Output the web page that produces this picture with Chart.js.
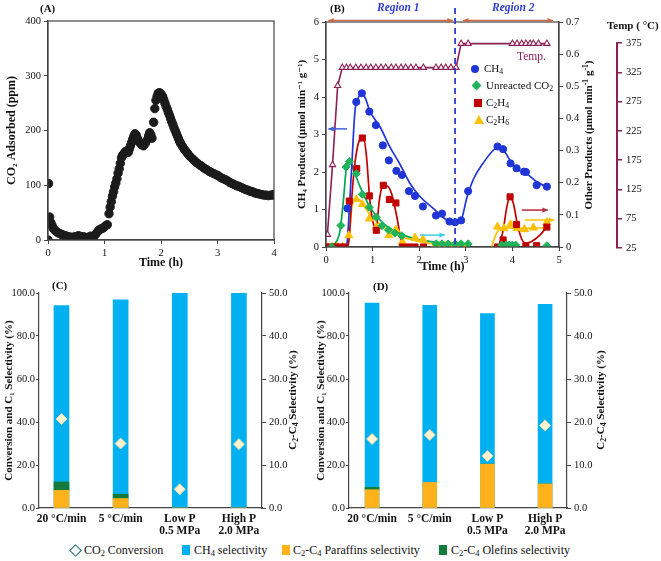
<!DOCTYPE html>
<html>
<head>
<meta charset="utf-8">
<script src="https://cdn.jsdelivr.net/npm/chart.js@4/dist/chart.umd.min.js"></script>
<style>
  body { margin: 0; background: #fff; width: 661px; height: 561px; position: relative; overflow: hidden;
         font-family: "Liberation Serif", "DejaVu Serif", serif; color: #111; }
  canvas { position: absolute; }
  .t { position: absolute; white-space: nowrap; line-height: 1; }
  .b { font-weight: bold; }
  .rot { transform: translate(-50%, -50%) rotate(-90deg); }
  sub { font-size: 0.7em; vertical-align: -0.25em; }
  sup { font-size: 0.7em; vertical-align: 0.45em; }
  .mk { position: absolute; }
</style>
</head>
<body>
<canvas id="cA" style="left:0;top:0" width="290" height="270"></canvas>
<canvas id="cB" style="left:286px;top:0" width="310" height="275"></canvas>
<canvas id="cT" style="left:596px;top:0" width="65" height="270"></canvas>
<canvas id="cC" style="left:0;top:275px" width="330" height="265"></canvas>
<canvas id="cD" style="left:312px;top:275px" width="349" height="265"></canvas>

<div class="t b" style="left:40px;top:3px;font-size:11px">(A)</div>
<div class="t b" style="left:330px;top:3px;font-size:11px">(B)</div>
<div class="t b" style="left:377px;top:2px;font-size:11.5px;font-style:italic;color:#2f3fd0">Region 1</div>
<div class="t b" style="left:492px;top:2px;font-size:11.5px;font-style:italic;color:#2f3fd0">Region 2</div>
<div class="t b" style="left:607px;top:20px;font-size:11px">Temp ( °C)</div>
<div class="t" style="left:517px;top:51px;font-size:11.5px;color:#8c1f55">Temp.</div>
<div class="t rot" style="left:588px;top:135px;font-size:11px;font-weight:bold">Other Products (µmol min<sup>-1</sup> g<sup>-1</sup>)</div>

<!-- panel B legend -->
<div class="mk" style="left:471px;top:65px;width:8px;height:8px;border-radius:50%;background:#1f35d6"></div>
<div class="t" style="left:484px;top:63px;font-size:11px">CH<sub>4</sub></div>
<div class="mk" style="left:473px;top:82px;width:7px;height:7px;transform:rotate(45deg);background:#1fb35a"></div>
<div class="t" style="left:486px;top:80px;font-size:11px">Unreacted CO<sub>2</sub></div>
<div class="mk" style="left:474px;top:99px;width:8px;height:8px;background:#c00000"></div>
<div class="t" style="left:486px;top:97px;font-size:11px">C<sub>2</sub>H<sub>4</sub></div>
<div class="mk" style="left:474px;top:115px;width:0;height:0;border-left:5px solid transparent;border-right:5px solid transparent;border-bottom:9px solid #ffc000"></div>
<div class="t" style="left:486px;top:114px;font-size:11px">C<sub>2</sub>H<sub>6</sub></div>

<div class="t b" style="left:52px;top:280px;font-size:11px">(C)</div>
<div class="t b" style="left:373px;top:281px;font-size:11px">(D)</div>
<div class="t rot" style="left:293px;top:400px;font-size:11px;font-weight:bold">C<sub>2</sub>-C<sub>4</sub> Selectivity (%)</div>
<div class="t rot" style="left:601px;top:400px;font-size:11px;font-weight:bold">C<sub>2</sub>-C<sub>4</sub> Selectivity (%)</div>

<!-- bottom legend -->
<div class="mk" style="left:71px;top:546px;width:7px;height:7px;transform:rotate(45deg);border:1.5px solid #1f6f6f;background:#fff"></div>
<div class="t" style="left:84px;top:544px;font-size:12px">CO<sub>2</sub> Conversion</div>
<div class="mk" style="left:182px;top:545px;width:8px;height:10px;background:#00b0f0"></div>
<div class="t" style="left:194px;top:544px;font-size:12px">CH<sub>4</sub> selectivity</div>
<div class="mk" style="left:282px;top:545px;width:8px;height:10px;background:#ffb21c"></div>
<div class="t" style="left:293px;top:544px;font-size:12px">C<sub>2</sub>-C<sub>4</sub> Paraffins selectivity</div>
<div class="mk" style="left:439px;top:545px;width:8px;height:10px;background:#127a3a"></div>
<div class="t" style="left:451px;top:544px;font-size:12px">C<sub>2</sub>-C<sub>4</sub> Olefins selectivity</div>

<script>
// ---- panel A: CO2 adsorbed vs time ----
var aTime = [0, 0.01, 0.03, 0.05, 0.07, 0.09, 0.11, 0.13, 0.15, 0.18, 0.21, 0.24, 0.27, 0.3, 0.33, 0.36, 0.39, 0.42, 0.45, 0.48,
  0.51, 0.54, 0.57, 0.6, 0.63, 0.66, 0.69, 0.72, 0.75, 0.78, 0.81, 0.84, 0.87, 0.9, 0.93, 0.96, 0.99, 1.02, 1.05, 1.08,
  1.1, 1.12, 1.14, 1.16, 1.18, 1.2, 1.22, 1.24, 1.26, 1.28, 1.3, 1.32, 1.34, 1.36, 1.38, 1.4, 1.42, 1.44, 1.46, 1.48,
  1.5, 1.52, 1.54, 1.56, 1.58, 1.6, 1.63, 1.66, 1.69, 1.72, 1.75, 1.78, 1.8, 1.82, 1.84, 1.87, 1.89, 1.91, 1.93, 1.95,
  1.97, 1.99, 2.01, 2.03, 2.05, 2.07, 2.09, 2.11, 2.13, 2.15, 2.17, 2.19, 2.21, 2.23, 2.25, 2.27, 2.29, 2.31, 2.33, 2.35,
  2.38, 2.41, 2.44, 2.47, 2.5, 2.54, 2.58, 2.62, 2.66, 2.7, 2.74, 2.78, 2.82, 2.86, 2.9, 2.94, 2.98, 3.02, 3.06, 3.1,
  3.14, 3.18, 3.22, 3.26, 3.3, 3.34, 3.38, 3.42, 3.46, 3.5, 3.54, 3.58, 3.62, 3.66, 3.7, 3.74, 3.78, 3.82, 3.86, 3.9,
  3.94, 3.98, 4.0];
var aCO2 = [0, 103, 42, 32, 27, 22, 19, 17, 15, 13, 12, 10, 9, 8, 7, 6, 5, 5, 5, 6,
  6, 8, 6, 5, 6, 4, 3, 5, 7, 6, 7, 10, 14, 18, 20, 21, 23, 26, 28, 48,
  60, 70, 80, 88, 97, 104, 112, 122, 130, 140, 150, 155, 157, 160, 162, 163, 160, 166, 172, 178,
  184, 190, 194, 192, 186, 181, 177, 174, 172, 176, 182, 190, 196, 192, 186, 215, 240, 255, 262, 268,
  269, 268, 265, 262, 256, 250, 244, 239, 233, 228, 222, 216, 211, 205, 200, 195, 190, 185, 180, 176,
  171, 166, 162, 158, 154, 150, 146, 142, 139, 136, 133, 130, 128, 125, 123, 121, 119, 117, 114, 112,
  110, 108, 105, 103, 101, 99, 98, 96, 94, 92, 91, 89, 88, 86, 85, 84, 83, 82, 82, 81,
  82, 82, 83];

// ---- panel B: products vs time (CH4 on left axis, others on right axis) ----
var ch4T = [0.46, 0.65, 0.77, 0.93, 1.07, 1.22, 1.35, 1.51, 1.63, 1.78, 1.91, 2.08, 2.36, 2.49, 2.65, 2.77, 2.9, 3.05, 3.68, 3.8, 3.96, 4.09, 4.25, 4.29, 4.52, 4.74];
var ch4V = [1.03, 3.87, 4.1, 3.61, 3.25, 2.71, 2.31, 2.03, 1.92, 1.49, 1.36, 1.08, 0.84, 0.89, 0.68, 0.66, 0.71, 1.49, 2.68, 2.61, 2.23, 2.1, 2.01, 2.0, 1.65, 1.61];
var co2T = [0.12, 0.32, 0.43, 0.5, 0.65, 0.78, 0.93, 1.08, 1.2, 1.34, 1.48, 1.63, 2.36, 2.49, 2.62, 2.77, 2.9, 3.05, 3.77, 3.86, 3.93, 4.0, 4.07, 4.74];
var co2V = [0, 0.067, 0.249, 0.266, 0.228, 0.164, 0.124, 0.093, 0.066, 0.053, 0.043, 0.035, 0.01, 0.01, 0.009, 0.009, 0.01, 0.01, 0.006, 0.006, 0.006, 0.006, 0.006, 0.004];
var c2h4T = [0, 0.1, 0.2, 0.3, 0.4, 0.5, 0.66, 0.78, 0.93, 1.08, 1.23, 1.36, 1.5, 1.64, 1.78, 1.91, 2.09, 3.68, 3.8, 3.95, 4.09, 4.29, 4.52, 4.74];
var c2h4V = [0, 0, 0, 0, 0, 0.143, 0.244, 0.339, 0.159, 0.052, 0.192, 0.148, 0.137, 0, 0, 0, 0, 0, 0.022, 0.156, 0.07, 0.004, 0.004, 0.062];
var c2h6T = [0.02, 0.13, 0.25, 0.36, 0.49, 0.65, 0.78, 0.93, 1.08, 1.35, 1.5, 1.64, 1.91, 2.08, 2.34, 2.45, 2.55, 2.66, 2.8, 2.91, 3.02, 3.68, 3.82, 3.96, 4.1, 4.26, 4.45, 4.74];
var c2h6V = [0, 0, 0, 0, 0.036, 0.148, 0.133, 0.088, 0.062, 0.036, 0.054, 0.016, 0.029, 0.024, 0.004, 0.004, 0.004, 0.004, 0.003, 0.002, 0.002, 0.063, 0.058, 0.07, 0.058, 0.055, 0.06, 0.077];
var tempT = [0.03, 0.14, 0.25, 0.35, 0.44, 0.52, 0.64, 0.75, 0.86, 0.96, 1.07, 1.18, 1.28, 1.4, 1.5, 1.61, 1.71, 1.82, 1.93, 2.09,
  2.36, 2.47, 2.57, 2.68, 2.79, 2.9, 3.05, 4.0, 4.1, 4.2, 4.29, 4.38, 4.45, 4.56, 4.74];
var tempV = [48, 167, 302, 333, 333, 333, 333, 333, 333, 333, 333, 333, 333, 333, 333, 333, 333, 333, 333, 333,
  333, 333, 333, 333, 333, 374, 374, 374, 374, 374, 374, 374, 374, 374, 374];

// fitted trend curves (null = gap)
var ch4FitT = [0.4, 0.45, 0.5, 0.55, 0.62, 0.7, 0.77, 0.85, 0.94, 1.05, 1.16, 1.37, 1.59, 1.8, 2.02, 2.3, 2.5, 2.65, 2.77, 2.9, 3.02, 3.16, 3.38, 3.59, 3.7, 3.8, 3.98, 4.13, 4.31, 4.52, 4.74];
var ch4FitV = [0, 0.1, 1.0, 2.1, 3.6, 4.0, 4.1, 3.95, 3.62, 3.4, 3.2, 2.67, 2.2, 1.7, 1.34, 1.03, 0.8, 0.68, 0.64, 0.72, 1.3, 1.8, 2.25, 2.58, 2.66, 2.6, 2.25, 2.05, 1.95, 1.74, 1.6];
var co2FitT = [0.1, 0.2, 0.3, 0.37, 0.44, 0.5, 0.59, 0.73, 0.94, 1.16, 1.37, 1.66, 2.02, 2.59, 3.05];
var co2FitV = [0, 0.012, 0.05, 0.14, 0.25, 0.27, 0.24, 0.188, 0.125, 0.084, 0.058, 0.037, 0.022, 0.012, 0.008];
var c2h4FitT = [0, 0.45, 0.5, 0.55, 0.62, 0.73, 0.8, 0.87, 0.94, 1.02, 1.08, 1.14, 1.2, 1.3, 1.41, 1.52, 1.62, 1.65, 2.5, 3.7, 3.8, 3.88, 3.95, 4.02, 4.13, 4.27, 4.41, 4.59, 4.74];
var c2h4FitV = [0, 0, 0.03, 0.146, 0.26, 0.335, 0.34, 0.28, 0.146, 0.07, 0.06, 0.14, 0.185, 0.19, 0.165, 0.094, 0.012, 0, null, 0, 0.05, 0.125, 0.156, 0.136, 0.055, 0.012, 0.017, 0.037, 0.063];
var c2h6FitT = [0, 0.45, 0.48, 0.55, 0.62, 0.73, 0.87, 1.02, 1.23, 1.44, 1.73, 2.16, 2.59, 3.05, 3.3, 3.55, 3.65, 3.72, 3.85, 4.2, 4.74];
var c2h6FitV = [0, 0, 0.012, 0.115, 0.15, 0.146, 0.115, 0.089, 0.063, 0.043, 0.027, 0.013, 0.008, 0.005, null, 0, 0.04, 0.055, 0.06, 0.058, 0.06];
var regionSplit = 2.77;

// ---- panels C and D: conversion / selectivity ----
var cdCats = ['20 °C/min', '5 °C/min', ['Low P', '0.5 MPa'], ['High P', '2.0 MPa']];
var cConv = [41.4, 30.0, 8.7, 29.7];
var cCH4 = [94.2, 96.8, 100, 100];
var cPar = [4.1, 2.2, 0, 0];
var cOle = [1.95, 1.0, 0, 0];
var dConv = [32.1, 34.0, 24.2, 38.4];
var dCH4 = [95.3, 94.3, 90.4, 94.7];
var dPar = [4.25, 5.95, 10.2, 5.6];
var dOle = [0.55, 0, 0, 0];

Chart.defaults.font.family = '"Liberation Serif", "DejaVu Serif", serif';
Chart.defaults.font.size = 10.5;
Chart.defaults.color = '#111';

var MAROON = '#8c1f55';

function pts(t, v) { return t.map(function (x, i) { return { x: x, y: v[i] }; }); }
function ax(o) {
  o.grid = Object.assign({ drawOnChartArea: false, tickLength: 4, color: '#444' }, o.grid);
  o.border = Object.assign({ color: '#444', width: 1.2 }, o.border);
  return o;
}
function ttl(text, top, bottom, size) {
  return { display: true, text: text, font: { weight: 'bold', size: size || 12 }, padding: { top: top || 0, bottom: bottom || 0 } };
}
function w(n) { return function (s) { s.width = n; }; }
function h(n) { return function (s) { s.height = n; }; }
var base = { responsive: false, animation: false, devicePixelRatio: 1,
  plugins: { legend: { display: false }, tooltip: { enabled: false } } };
function opts(o) { return Object.assign({}, base, o); }

var frame = {
  id: 'frame',
  afterDraw: function (c) {
    var a = c.chartArea, ctx = c.ctx;
    ctx.save();
    ctx.strokeStyle = '#444'; ctx.lineWidth = 1.2;
    ctx.strokeRect(a.left, a.top, a.right - a.left, a.bottom - a.top);
    ctx.restore();
  }
};

// panel A
new Chart(document.getElementById('cA'), {
  type: 'scatter',
  data: { datasets: [{ data: pts(aTime, aCO2), pointRadius: 4.2, backgroundColor: '#1b1b1b', borderColor: '#1b1b1b' }] },
  options: opts({
    layout: { padding: { top: 21, right: 16, left: 0, bottom: 0 } },
    scales: {
      x: ax({ min: 0, max: 4, ticks: { stepSize: 1 }, title: ttl('Time (h)', 0, 0), afterFit: h(30) }),
      y: ax({ min: 0, max: 400, ticks: { stepSize: 100 }, title: ttl('CO₂ Adsorbed (ppm)', 5), afterFit: w(48) })
    }
  }),
  plugins: [frame]
});

// temperature axis placement (pixels) so panel B temps line up with the separate Temp axis
var B_TOP = 22, B_BOT = 247, T_TOP = 43, T_BOT = 248;
var tK = (T_BOT - T_TOP) / (375 - 25);
var tMin = 25 + (T_BOT - B_BOT) / tK;
var tMax = tMin + (B_BOT - B_TOP) / tK;

function head(ctx, x1, y1, x2, y2) {
  var a = Math.atan2(y2 - y1, x2 - x1), L = 6;
  ctx.beginPath(); ctx.moveTo(x2, y2);
  ctx.lineTo(x2 - L * Math.cos(a - 0.45), y2 - L * Math.sin(a - 0.45));
  ctx.lineTo(x2 - L * Math.cos(a + 0.45), y2 - L * Math.sin(a + 0.45));
  ctx.closePath(); ctx.fill();
}
function arrow(ctx, x1, y1, x2, y2, col, both) {
  ctx.strokeStyle = col; ctx.fillStyle = col; ctx.lineWidth = 1.5;
  ctx.beginPath(); ctx.moveTo(x1, y1); ctx.lineTo(x2, y2); ctx.stroke();
  head(ctx, x1, y1, x2, y2);
  if (both) head(ctx, x2, y2, x1, y1);
}

var bNotes = {
  id: 'bNotes',
  afterDraw: function (c) {
    var ctx = c.ctx, a = c.chartArea, x = c.scales.x, y = c.scales.y, y2 = c.scales.y2;
    ctx.save();
    // region divider
    var xd = x.getPixelForValue(regionSplit);
    ctx.strokeStyle = '#2f3fd0'; ctx.lineWidth = 1.8; ctx.setLineDash([6, 4]);
    ctx.beginPath(); ctx.moveTo(xd, a.top - 14); ctx.lineTo(xd, a.bottom); ctx.stroke();
    ctx.setLineDash([]);
    // region spans
    var yt = a.top - 1.5;
    arrow(ctx, x.getPixelForValue(0.05), yt, x.getPixelForValue(2.72), yt, '#c8694a', true);
    arrow(ctx, x.getPixelForValue(2.94), yt, x.getPixelForValue(4.87), yt, '#c8694a', true);
    // axis pointers
    arrow(ctx, x.getPixelForValue(0.45), y.getPixelForValue(3.15), x.getPixelForValue(0.05), y.getPixelForValue(3.15), '#3f5fe0');
    arrow(ctx, x.getPixelForValue(2.02), y2.getPixelForValue(0.037), x.getPixelForValue(2.55), y2.getPixelForValue(0.037), '#3ccde8');
    arrow(ctx, x.getPixelForValue(4.2), y2.getPixelForValue(0.115), x.getPixelForValue(4.76), y2.getPixelForValue(0.115), '#b8283a');
    arrow(ctx, x.getPixelForValue(4.27), y2.getPixelForValue(0.084), x.getPixelForValue(4.9), y2.getPixelForValue(0.084), '#ffc000');
    ctx.restore();
  }
};

function fit(t, v, col, axis) {
  return { data: pts(t, v), yAxisID: axis, showLine: true, pointRadius: 0, borderColor: col, borderWidth: 1.7,
           tension: 0.4, cubicInterpolationMode: 'monotone' };
}
function mark(t, v, col, style, r, axis) {
  return { data: pts(t, v), yAxisID: axis, pointStyle: style, pointRadius: r, backgroundColor: col, borderColor: col };
}

new Chart(document.getElementById('cB'), {
  type: 'scatter',
  data: { datasets: [
    mark(ch4T, ch4V, '#1f35d6', 'circle', 3.6, 'y'),
    mark(co2T, co2V, '#1fb35a', 'rectRot', 4, 'y2'),
    mark(c2h4T, c2h4V, '#c00000', 'rect', 4.3, 'y2'),
    mark(c2h6T, c2h6V, '#ffc000', 'triangle', 4.6, 'y2'),
    { data: pts(tempT, tempV), yAxisID: 'yT', showLine: true, pointStyle: 'triangle', pointRadius: 3.6,
      borderColor: MAROON, pointBackgroundColor: '#fff', pointBorderColor: MAROON, borderWidth: 1.6, pointBorderWidth: 1.1 },
    fit(ch4FitT, ch4FitV, '#1f35d6', 'y'),
    fit(co2FitT, co2FitV, '#00a651', 'y2'),
    fit(c2h4FitT, c2h4FitV, '#c00000', 'y2'),
    fit(c2h6FitT, c2h6FitV, '#ffc000', 'y2')
  ] },
  options: opts({
    layout: { padding: { top: B_TOP, right: 0, left: 0, bottom: 0 } },
    scales: {
      x: ax({ min: 0, max: 5, ticks: { stepSize: 1 }, title: ttl('Time (h)', 0, 1), afterFit: h(275 - B_BOT) }),
      y: ax({ min: 0, max: 6, ticks: { stepSize: 1 }, title: ttl('CH₄ Produced (µmol min⁻¹ g⁻¹)', 10, 0, 11), afterFit: w(40) }),
      y2: ax({ position: 'right', min: 0, max: 0.7,
               ticks: { stepSize: 0.1, callback: function (v) { return v === 0 ? '0' : v.toFixed(1); } }, afterFit: w(37) }),
      yT: { display: false, min: tMin, max: tMax }
    }
  }),
  plugins: [frame, bNotes]
});

// temperature axis
new Chart(document.getElementById('cT'), {
  type: 'scatter',
  data: { datasets: [{ data: [] }] },
  options: opts({
    layout: { padding: { top: T_TOP, right: 0, left: 0, bottom: 270 - T_BOT } },
    scales: {
      x: { display: false, min: 0, max: 1 },
      y: { position: 'right', min: 25, max: 375, ticks: { stepSize: 50, padding: 4 },
           grid: { drawOnChartArea: false, tickLength: 5, color: MAROON, lineWidth: 1.5 },
           border: { color: MAROON, width: 2 }, afterFit: w(44) }
    }
  })
});

// panels C and D
function selPanel(id, conv, ch4, par, ole, lo, hi, thick, geo) {
  function bars(v, col, axis) {
    return { data: pts([0, 1, 2, 3], v), yAxisID: axis, backgroundColor: col, grouped: false, barThickness: thick };
  }
  new Chart(document.getElementById(id), {
    type: 'bar',
    data: { datasets: [
      { type: 'line', data: pts([0, 1, 2, 3], conv), yAxisID: 'y', showLine: false, pointStyle: 'rectRot',
        pointRadius: 5.5, pointBackgroundColor: '#fff4cf', pointBorderColor: '#e2d8ae', pointBorderWidth: 1 },
      bars(par, '#ffb21c', 'y2'),
      bars(ole, '#127a3a', 'y2'),
      bars(ch4, '#00b0f0', 'y')
    ] },
    options: opts({
      layout: { padding: { top: 18, right: geo.pr, left: 0, bottom: 0 } },
      scales: {
        x: { type: 'linear', min: lo, max: hi, offset: false,
             afterBuildTicks: function (s) { s.ticks = cdCats.map(function (c, i) { return { value: i }; }); },
             ticks: { padding: 5, font: { weight: 'bold', size: 11.5, lineHeight: 1.05 }, maxRotation: 0, autoSkip: false,
                      callback: function (v) { return cdCats[v]; } },
             grid: { display: false, drawTicks: false }, border: { color: '#444', width: 1.3 }, afterFit: h(32) },
        y: ax({ min: 0, max: 100, grid: { tickLength: 3 },
                ticks: { stepSize: 20, padding: 1, callback: function (v) { return v.toFixed(1); } },
                title: ttl('Conversion and C₁ Selectivity (%)', 3, 0, 11), afterFit: w(geo.lw) }),
        y2: ax({ position: 'right', min: 0, max: 50, stacked: true,
                 ticks: { stepSize: 10, callback: function (v) { return v.toFixed(1); } }, afterFit: w(geo.rw) })
      }
    })
  });
}
selPanel('cC', cConv, cCH4, cPar, cOle, -0.38, 3.39, 15, { lw: 39, rw: 40, pr: 28 });
selPanel('cD', dConv, dCH4, dPar, dOle, -0.40, 3.38, 14, { lw: 37, rw: 42, pr: 52 });
</script>
</body>
</html>
